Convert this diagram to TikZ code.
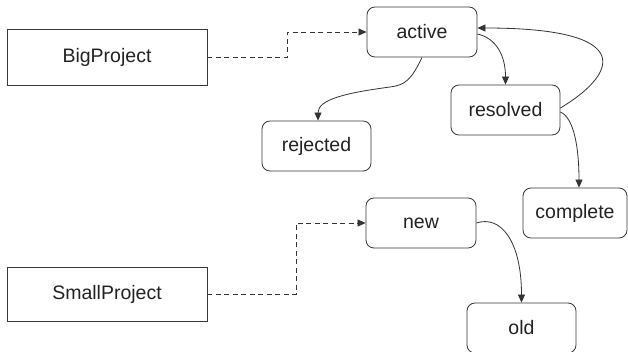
\documentclass[tikz,border=0pt]{standalone}
\usepackage{fontspec}
\setmainfont{Liberation Sans}
\usetikzlibrary{arrows.meta,calc}
\definecolor{linec}{HTML}{333333}
\definecolor{boxc}{HTML}{3A3A3A}
\definecolor{txtc}{HTML}{222222}
\tikzset{
  classbox/.style={draw=boxc, line width=0.85pt, minimum width=200pt, minimum height=56pt, inner sep=0pt, text=txtc, font=\fontsize{19.5}{23}\selectfont},
  statebox/.style={draw=boxc, line width=0.85pt, rounded corners=8pt, minimum width=110pt, minimum height=50pt, inner sep=0pt, text=txtc, font=\fontsize{19.5}{23}\selectfont},
  dasharrow/.style={draw=linec, line width=0.8pt, dash pattern=on 5pt off 3.5pt, -{Triangle[length=8pt,width=7pt]}},
  flowarrow/.style={draw=linec, line width=0.8pt, -{Triangle[length=8pt,width=7pt]}}
}
\begin{document}
\begin{tikzpicture}[x=1pt,y=-1pt]
\useasboundingbox (0,0) rectangle (628,351);
\node[classbox] (big) at (107,57) {BigProject};
\node[classbox, minimum height=54pt] (small) at (107,294) {SmallProject};
\node[statebox] (active) at (422,32) {active};
\node[statebox, minimum width=109pt] (rejected) at (316.5,146) {rejected};
\node[statebox, minimum width=109pt] (resolved) at (505.5,110) {resolved};
\node[statebox, minimum width=104pt] (complete) at (575,213) {complete};
\node[statebox] (new) at (421,223) {new};
\node[statebox, minimum width=109pt] (old) at (521.5,328) {old};
\coordinate (k1) at (390,87);
\draw[dasharrow] (big.east) -- ++(80,0) |- (active.west);
\draw[dasharrow] (small.east) -- ++(89,0) |- (new.west);
\draw[flowarrow] (active.south) .. controls +(-11,23) and +(15,-2) .. (k1) .. controls +(-45,6) and +(0,-21) .. ([xshift=1.5pt]rejected.north);
\draw[flowarrow] ([yshift=-2pt]active.east) .. controls +(18,4) and +(0,-30) .. (resolved.north);
\draw[flowarrow] ([yshift=2pt]resolved.east) .. controls +(55,-33) and +(163,0) .. ([yshift=4pt]active.east);
\draw[flowarrow] ([yshift=-2pt]resolved.east) .. controls +(14,6) and +(0,-38) .. ([xshift=4pt]complete.north);
\draw[flowarrow] (new.east) .. controls +(24,-8) and +(0,-62) .. (old.north);
\end{tikzpicture}
\end{document}
